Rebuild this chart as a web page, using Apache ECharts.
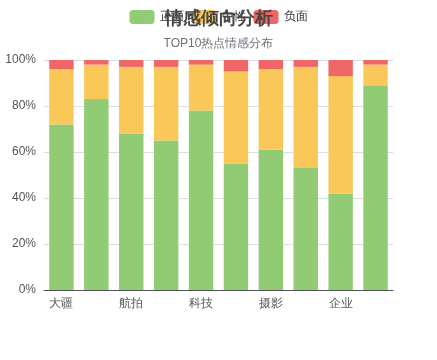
<!DOCTYPE html>
<html>
<head>
<meta charset="utf-8">
<script src="https://cdn.jsdelivr.net/npm/echarts@6/dist/echarts.min.js"></script>
<style>html,body{margin:0;padding:0;background:#fff}#c{width:437px;height:360px}</style>
</head>
<body>
<div id="c"></div>
<script>
var categories = ['大疆', '无人机', '航拍', '新品', '科技', '创新', '摄影', '视频', '企业', '产品'];
var positive = [72, 83, 68, 65, 78, 55, 61, 53, 42, 89];
var neutral  = [24, 15, 29, 32, 20, 40, 35, 44, 51, 9];
var negative = [4, 2, 3, 3, 2, 5, 4, 3, 7, 2];
var seriesNames = ['正面', '中性', '负面'];
var yTicks = [0, 20, 40, 60, 80, 100];

var chart = echarts.init(document.getElementById('c'));
chart.setOption({
  animation: false,
  color: ['#91cc75', '#fac858', '#ee6666'],
  title: {
    text: '情感倾向分析',
    subtext: 'TOP10热点情感分布',
    left: 'center',
    top: 5,
    itemGap: 10,
    textStyle: { fontSize: 18, fontWeight: 'bold', color: '#464646' },
    subtextStyle: { fontSize: 12, color: '#6E7079' }
  },
  legend: {
    data: seriesNames,
    top: 5,
    textStyle: { color: '#333' }
  },
  grid: { left: 44, right: 44, top: 60, bottom: 70 },
  xAxis: {
    type: 'category',
    data: categories,
    axisLabel: { interval: 1 },
    axisTick: { interval: 1 }
  },
  yAxis: {
    type: 'value',
    min: yTicks[0],
    max: yTicks[yTicks.length - 1],
    interval: 20,
    axisLabel: { formatter: '{value}%' }
  },
  series: [
    { name: seriesNames[0], type: 'bar', stack: 'total', barWidth: '70%', data: positive },
    { name: seriesNames[1], type: 'bar', stack: 'total', barWidth: '70%', data: neutral },
    { name: seriesNames[2], type: 'bar', stack: 'total', barWidth: '70%', data: negative }
  ]
});
</script>
</body>
</html>
